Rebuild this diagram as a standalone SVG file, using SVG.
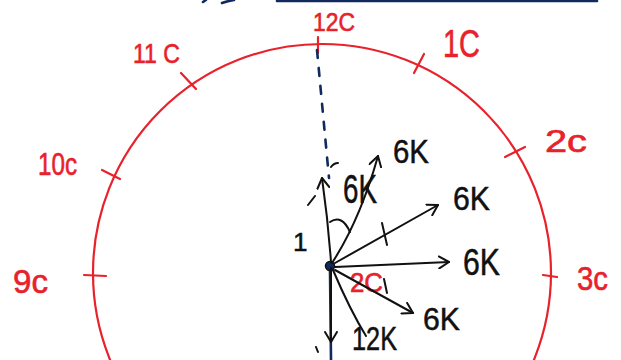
<svg xmlns="http://www.w3.org/2000/svg" width="621" height="360" viewBox="0 0 621 360">
<style>
.red{fill:none;stroke:#e8212b;stroke-width:2.2;stroke-linecap:round}
.blk{fill:none;stroke:#111;stroke-width:2;stroke-linecap:round;stroke-linejoin:round}
.navy{fill:none;stroke:#102a5e;stroke-width:2.6;stroke-linecap:round}
.rt{fill:#e8212b;stroke:#e8212b;stroke-width:0.6;font-family:"Liberation Sans",Arial,sans-serif}
.bt{fill:#111;stroke:#111;stroke-width:0.5;font-family:"Liberation Sans",Arial,sans-serif}
</style>
<defs>
<marker id="ah" viewBox="0 0 12 14" refX="11" refY="7" markerWidth="12" markerHeight="14" markerUnits="userSpaceOnUse" orient="auto">
<path d="M1,1 L11,7 L1,13" fill="none" stroke="#111" stroke-width="2" stroke-linecap="round" stroke-linejoin="round"/>
</marker>
</defs>
<rect width="621" height="360" fill="#fff"/>
<g id="top-strip">
<path class="navy" d="M277,1 L597,1" stroke-width="2.5"/>
<path class="navy" d="M203,2 L206,0 M222,3 Q228,1 234,0"/>
</g>
<g id="clock">
<circle class="red" cx="322" cy="273" r="229"/>
<path class="red" d="M318,37 L318,53 M181,73 L196,89 M424,54 L414,73 M102,170 L120,179 M84,275 L106,276 M505,157 L525,147 M543,275 L557,277"/>
<text class="rt" x="313" y="31" font-size="26" textLength="42" lengthAdjust="spacingAndGlyphs">12C</text>
<text class="rt" x="133" y="63" font-size="28" textLength="47" lengthAdjust="spacingAndGlyphs">11 C</text>
<text class="rt" x="443" y="57" font-size="38" textLength="37" lengthAdjust="spacingAndGlyphs">1C</text>
<text class="rt" x="38" y="175" font-size="31" textLength="39" lengthAdjust="spacingAndGlyphs">10c</text>
<text class="rt" x="13" y="293" font-size="34" textLength="35" lengthAdjust="spacingAndGlyphs">9c</text>
<text class="rt" x="545" y="152" font-size="31" textLength="42" lengthAdjust="spacingAndGlyphs">2c</text>
<text class="rt" x="577" y="290" font-size="34" textLength="31" lengthAdjust="spacingAndGlyphs">3c</text>
</g>
<g id="center">
<path class="navy" d="M317,50 L329,178" stroke-dasharray="8 10"/>
<path class="navy" d="M330,270 L331,360"/>
<circle cx="330" cy="266" r="4.5" fill="#102a5e" stroke="#111" stroke-width="1.5"/>
<text class="rt" x="350" y="292" font-size="27" textLength="33" lengthAdjust="spacingAndGlyphs">2C</text>
</g>
<g id="connectors">
<path class="blk" d="M331,262 Q328,220 322,178" marker-end="url(#ah)"/>
<path class="blk" d="M332,263 Q360,220 378,156" marker-end="url(#ah)"/>
<path class="blk" d="M335,263 L438,205" marker-end="url(#ah)"/>
<path class="blk" d="M335,267 L449,262" marker-end="url(#ah)"/>
<path class="blk" d="M335,270 L413,313" marker-end="url(#ah)"/>
<path class="blk" d="M331,268 L331,342" marker-end="url(#ah)"/>
<path class="blk" d="M333,270 Q350,310 366,336"/>
<path class="blk" d="M382,223 L387,245 M384,279 L387,293 M330,222 Q342,214 350,232 M308,205 L315,196 M331,167 Q334,163 338,163 M316,347 L318,352"/>
</g>
<g id="labels">
<text class="bt" x="293" y="251" font-size="26">1</text>
<text class="bt" x="343" y="203" font-size="40" textLength="34" lengthAdjust="spacingAndGlyphs">6K</text>
<text class="bt" x="393" y="163" font-size="34" textLength="36" lengthAdjust="spacingAndGlyphs">6K</text>
<text class="bt" x="453" y="210" font-size="34" textLength="37" lengthAdjust="spacingAndGlyphs">6K</text>
<text class="bt" x="463" y="275" font-size="36" textLength="37" lengthAdjust="spacingAndGlyphs">6K</text>
<text class="bt" x="423" y="330" font-size="32" textLength="37" lengthAdjust="spacingAndGlyphs">6K</text>
<text class="bt" x="352" y="350" font-size="34" textLength="45" lengthAdjust="spacingAndGlyphs">12K</text>
</g>
</svg>
